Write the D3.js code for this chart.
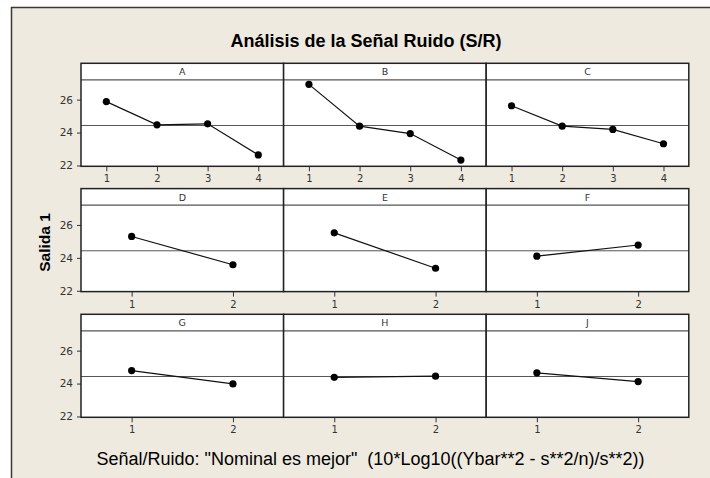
<!DOCTYPE html>
<html>
<head>
<meta charset="utf-8">
<script src="https://cdn.jsdelivr.net/npm/d3@7"></script>
<style>
  body { margin: 0; background: #fff; }
  svg { display: block; }
</style>
</head>
<body>
<svg id="chart" width="710" height="478"></svg>
<script>
// Signal-to-noise means per factor level
const factors = ["A", "B", "C", "D", "E", "F", "G", "H", "J"];
const snA = [25.88, 24.47, 24.53, 22.64];
const snB = [26.93, 24.39, 23.94, 22.33];
const snC = [25.63, 24.39, 24.19, 23.32];
const snD = [25.30, 23.58];
const snE = [25.52, 23.37];
const snF = [24.10, 24.78];
const snG = [24.79, 23.98];
const snH = [24.38, 24.45];
const snJ = [24.65, 24.12];
const grandMean = 24.43;
const yTicks = [22, 24, 26];

const series = [snA, snB, snC, snD, snE, snF, snG, snH, snJ];

const svg = d3.select("#chart");
const W = 710, H = 478;

// frame
svg.append("rect").attr("x", 11).attr("y", 7).attr("width", W - 11).attr("height", H - 7)
  .attr("fill", "#eeeae0");
svg.append("path").attr("d", `M11.5,${H} V7.5 H${W}`)
  .attr("fill", "none").attr("stroke", "#3a3a3a").attr("stroke-width", 1.5);

// layout
const left = 81, colW = 202.6, rowTops = [63.3, 188.6, 314.3], rowH = 103, stripH = 16.6;
const sans = "Liberation Sans, Arial, sans-serif";

svg.append("text")
  .attr("x", 366).attr("y", 46.5)
  .attr("text-anchor", "middle")
  .attr("font-family", sans)
  .attr("font-weight", "bold").attr("font-size", 18)
  .text("Análisis de la Señal Ruido (S/R)");

svg.append("text")
  .attr("transform", "translate(49.5,242.5) rotate(-90)")
  .attr("text-anchor", "middle")
  .attr("font-family", sans)
  .attr("font-weight", "bold").attr("font-size", 15.5)
  .text("Salida 1");

svg.append("text")
  .attr("x", 370.5).attr("y", 464.5)
  .attr("text-anchor", "middle")
  .attr("font-family", sans)
  .attr("font-size", 18)
  .style("white-space", "pre")
  .text('Señal/Ruido: "Nominal es mejor"  (10*Log10((Ybar**2 - s**2/n)/s**2))');

const tickFont = "DejaVu Sans, Verdana, sans-serif";

factors.forEach((f, i) => {
  const col = i % 3, row = Math.floor(i / 3);
  const x0 = left + col * colW, y0 = rowTops[row];
  const vals = series[i];
  const levels = d3.range(1, vals.length + 1);

  const x = d3.scaleLinear().domain([0.5, vals.length + 0.5]).range([x0, x0 + colW]);
  const y = d3.scaleLinear().domain([21.95, 27.2]).range([y0 + rowH, y0 + stripH]);

  const g = svg.append("g");

  // panel background
  g.append("rect").attr("x", x0).attr("y", y0).attr("width", colW).attr("height", rowH)
    .attr("fill", "#fff");

  // strip
  g.append("line").attr("x1", x0).attr("x2", x0 + colW)
    .attr("y1", y0 + stripH).attr("y2", y0 + stripH)
    .attr("stroke", "#555").attr("stroke-width", 1.3);
  g.append("text").attr("x", x0 + colW / 2).attr("y", y0 + 12)
    .attr("text-anchor", "middle").attr("font-family", tickFont).attr("font-size", 9.5)
    .attr("fill", "#333").text(f);

  // reference line at grand mean
  g.append("line").attr("x1", x0).attr("x2", x0 + colW)
    .attr("y1", y(grandMean)).attr("y2", y(grandMean))
    .attr("stroke", "#555").attr("stroke-width", 1);

  // x axis
  const xa = g.append("g").attr("transform", `translate(0,${y0 + rowH})`)
    .call(d3.axisBottom(x).tickValues(levels).tickFormat(d3.format("d")).tickSize(5).tickPadding(4));
  xa.select(".domain").remove();
  xa.selectAll("line").attr("stroke", "#333");
  xa.selectAll("text").attr("font-family", tickFont).attr("font-size", 10).attr("fill", "#333");

  if (col === 0) {
    const ya = g.append("g").attr("transform", `translate(${x0},0)`)
      .call(d3.axisLeft(y).tickValues(yTicks).tickFormat(d3.format("d")).tickSize(4).tickPadding(4));
    ya.select(".domain").remove();
    ya.selectAll("line").attr("stroke", "#333");
    ya.selectAll("text").attr("font-family", tickFont).attr("font-size", 10.5).attr("fill", "#333");
  }

  // data line and points
  const line = d3.line().x((d, k) => x(levels[k])).y(d => y(d));
  g.append("path").datum(vals).attr("d", line)
    .attr("fill", "none").attr("stroke", "#111").attr("stroke-width", 1.2);
  g.selectAll("circle").data(vals).join("circle")
    .attr("cx", (d, k) => x(levels[k])).attr("cy", d => y(d)).attr("r", 3.6)
    .attr("fill", "#000");

  // panel border
  g.append("rect").attr("x", x0).attr("y", y0).attr("width", colW).attr("height", rowH)
    .attr("fill", "none").attr("stroke", "#222").attr("stroke-width", 1.5);
});
</script>
</body>
</html>
